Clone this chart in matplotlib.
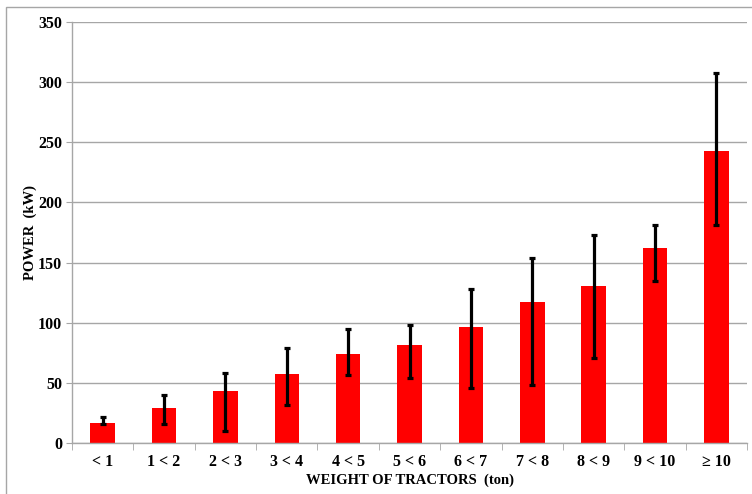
import matplotlib
matplotlib.use("Agg")
import matplotlib.pyplot as plt
import numpy as np
from matplotlib.patches import Rectangle

categories = ["< 1", "1 < 2", "2 < 3", "3 < 4", "4 < 5", "5 < 6", "6 < 7", "7 < 8", "8 < 9", "9 < 10", "\u2265 10"]
power = [17, 29, 43.5, 57.5, 74.5, 81.5, 96.5, 117.5, 131, 162, 243]
err_low = [16, 16, 10, 31.5, 56.5, 54, 46, 48, 71, 134.5, 181]
err_high = [21.5, 40.5, 58, 79.5, 95, 98, 128, 153.5, 173, 181.5, 307]

plt.rcParams['font.family'] = ['Liberation Serif', 'DejaVu Serif']
plt.rcParams['font.weight'] = 'bold'

fig = plt.figure(figsize=(7.52, 4.94), dpi=100)
ax = fig.add_axes([72/752, 1-443.3/494, 675/752, (443.3-21.7)/494])

x = np.arange(len(categories))
lower = np.array(power) - np.array(err_low)
upper = np.array(err_high) - np.array(power)
ax.bar(x, power, width=0.4, color='#ff0000', zorder=2)
ax.errorbar(x, power, yerr=[lower, upper], fmt='none', ecolor='black',
            elinewidth=2.3, capsize=2.2, capthick=2.3, zorder=3)

ax.set_xlim(-0.5, len(categories) - 0.5)
ax.set_ylim(0, 350)
ax.set_yticks(np.arange(0, 351, 50))
ax.yaxis.grid(True, color='#a6a6a6', linewidth=1)
ax.set_axisbelow(True)

ax.set_xticks(x)
ax.set_xticklabels(categories, fontsize=11.5, fontweight='bold')
ax.set_xticks(np.arange(-0.5, len(categories) + 0.5, 1), minor=True)
ax.tick_params(axis='x', which='major', length=0, pad=8)
ax.tick_params(axis='x', which='minor', length=5, color='#a6a6a6', direction='out')
ax.tick_params(axis='y', length=4, color='#a6a6a6', labelsize=11.5, pad=3)
for lab in ax.get_yticklabels():
    lab.set_fontweight('bold')

for s in ['top', 'right']:
    ax.spines[s].set_visible(False)
for s in ['left', 'bottom']:
    ax.spines[s].set_color('#a6a6a6')
    ax.spines[s].set_linewidth(1)

ax.set_ylabel("POWER  (kW)", fontsize=10.5, fontweight='bold')
ax.yaxis.set_label_coords((37 - 72) / 675, 0.5)
ax.set_xlabel("WEIGHT OF TRACTORS  (ton)", fontsize=10.5, fontweight='bold', labelpad=2)

fig.patches.append(Rectangle((6/752, -0.1), 1.2, (1-7.5/494) + 0.1, transform=fig.transFigure,
                             fill=False, edgecolor='#a6a6a6', linewidth=1))

fig.savefig("out.png", dpi=100)
